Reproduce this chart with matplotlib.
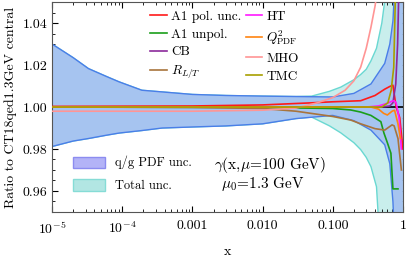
import numpy as np
import matplotlib
matplotlib.use('Agg')
import matplotlib.pyplot as plt
from matplotlib.patches import Patch
from matplotlib.ticker import FixedLocator, FixedFormatter, MultipleLocator, LogLocator

plt.rcParams['font.family'] = 'serif'
plt.rcParams['font.serif'] = ['cmr10']
plt.rcParams['mathtext.fontset'] = 'cm'
plt.rcParams['axes.unicode_minus'] = False
plt.rcParams['axes.formatter.use_mathtext'] = True

# q/g PDF uncertainty band
x_pdf = [1e-5, 2e-5, 3.3e-5, 6e-5, 9e-5, 1.9e-4, 3.7e-4, 1e-3, 3e-3, 1e-2, 3e-2,
         0.1, 0.2, 0.35, 0.55, 0.65, 0.72, 0.8, 0.9, 1.0]
pdf_hi = [1.030, 1.0235, 1.0183, 1.0145, 1.012, 1.008, 1.0072, 1.006, 1.0055, 1.0052, 1.005,
          1.0048, 1.0065, 1.011, 1.0208, 1.030, 1.041, 1.07, 1.2, 1.5]
pdf_lo = [0.9812, 0.9838, 0.985, 0.9866, 0.9876, 0.9888, 0.990, 0.9905, 0.991, 0.992, 0.9945,
          0.996, 0.9935, 0.989, 0.982, 0.973, 0.955, 0.92, 0.85, 0.7]

# total uncertainty band
x_tot = [1e-5, 2e-5, 3.3e-5, 6e-5, 9e-5, 1.9e-4, 3.7e-4, 1e-3, 3e-3, 1e-2, 3e-2,
         0.05, 0.09, 0.13, 0.2, 0.25, 0.3, 0.35, 0.42, 0.5, 0.6, 1.0]
tot_hi = [1.030, 1.0235, 1.0183, 1.0145, 1.012, 1.008, 1.0072, 1.006, 1.0055, 1.0052, 1.005,
          1.0052, 1.0075, 1.0095, 1.013, 1.0155, 1.018, 1.022, 1.028, 1.04, 1.06, 1.5]
tot_lo = [0.9812, 0.9838, 0.985, 0.9866, 0.9876, 0.9888, 0.990, 0.9905, 0.991, 0.992, 0.9945,
          0.9952, 0.991, 0.9877, 0.983, 0.9797, 0.976, 0.9716, 0.962, 0.92, 0.85, 0.5]

# individual uncertainty sources
x_a1pol = [1e-5, 1e-3, 0.01, 0.05, 0.1, 0.25, 0.4, 0.55, 0.65, 0.72, 0.8, 0.9, 1.0]
a1pol = [1.0003, 1.0005, 1.001, 1.002, 1.0025, 1.003, 1.0055, 1.0085, 1.0098, 1.0104, 1.0, 0.995, 0.98]

x_a1unpol = [1e-5, 0.01, 0.1, 0.18, 0.25, 0.35, 0.485, 0.535, 0.6, 0.674, 0.72, 0.85]
a1unpol = [1.0, 0.9998, 0.9993, 0.9986, 0.9976, 0.996, 0.993, 0.9877, 0.983, 0.978, 0.961, 0.961]

x_cb = [1e-5, 0.3, 0.55, 0.65, 0.72, 0.79, 0.84, 0.88]
cb = [1.0, 1.0, 1.0002, 1.0005, 1.002, 1.011, 1.03, 1.06]

x_rlt = [1e-5, 1e-3, 0.01, 0.03, 0.1, 0.18, 0.25, 0.4, 0.55, 0.7, 0.75, 0.85, 0.95]
rlt = [1.0, 0.9998, 0.9993, 0.998, 0.9955, 0.9938, 0.992, 0.9897, 0.989, 0.9915, 0.991, 0.985, 0.97]

x_ht = [1e-5, 0.3, 0.45, 0.6, 0.7, 0.75, 0.8, 0.88, 0.95]
ht = [1.0, 1.0, 1.0005, 1.0018, 1.0028, 1.003, 1.002, 0.995, 0.98]

x_q2 = [1e-5, 0.35, 0.45, 0.53, 0.6, 0.7, 0.76, 0.85, 0.92]
q2 = [1.0, 1.0, 0.999, 0.997, 0.9962, 0.998, 0.9985, 0.992, 0.985]

x_mho = [1e-5, 1e-3, 0.01, 0.03, 0.06, 0.1, 0.15, 0.2, 0.25, 0.3, 0.35, 0.4, 0.45]
mho = [0.998, 0.998, 0.9985, 0.9995, 1.002, 1.0045, 1.008, 1.0125, 1.019, 1.028, 1.038, 1.048, 1.06]

x_tmc = [1e-5, 0.5, 0.61, 0.68, 0.74, 0.79]
tmc = [1.0, 1.0, 1.002, 1.008, 1.019, 1.06]

xticks = [1e-5, 1e-4, 1e-3, 1e-2, 1e-1, 1.0]
xticklabels = [r'$10^{-5}$', r'$10^{-4}$', '0.001', '0.010', '0.100', '1']
yticks = [0.96, 0.98, 1.00, 1.02, 1.04]


def main():
    fig = plt.figure(figsize=(4.07, 2.62), dpi=100)
    ax = fig.add_axes([0.128, 0.191, 0.862, 0.801])

    ax.fill_between(x_tot, tot_lo, tot_hi, facecolor='#c9eeec', edgecolor='none', zorder=1)
    ax.plot(x_tot, tot_hi, color='#6ad8d2', lw=1.0, zorder=1.5)
    ax.plot(x_tot, tot_lo, color='#6ad8d2', lw=1.0, zorder=1.5)
    ax.fill_between(x_pdf, pdf_lo, pdf_hi, facecolor='#a6c4f0', edgecolor='none', zorder=2)
    ax.plot(x_pdf, pdf_hi, color='#4a7ee8', lw=1.0, zorder=2.5)
    ax.plot(x_pdf, pdf_lo, color='#4a7ee8', lw=1.0, zorder=2.5)

    ax.axhline(1.0, color='k', lw=1.2, zorder=3)

    lines = [
        (x_a1pol, a1pol, '#ff1a1a', 'A1 pol. unc.'),
        (x_a1unpol, a1unpol, '#1a9e1a', 'A1 unpol.'),
        (x_cb, cb, '#8b2a9b', 'CB'),
        (x_rlt, rlt, '#a8743c', r'$R_{L/T}$'),
        (x_ht, ht, '#ff19ff', 'HT'),
        (x_q2, q2, '#ff8410', r'$Q^2_{\rm PDF}$'),
        (x_mho, mho, '#ff9595', 'MHO'),
        (x_tmc, tmc, '#a8a000', 'TMC'),
    ]
    handles = []
    for xs, ys, c, lab in lines:
        h, = ax.plot(xs, ys, color=c, lw=1.2, label=lab, zorder=4)
        handles.append(h)

    ax.set_xscale('log')
    ax.set_xlim(1e-5, 1.0)
    ax.set_ylim(0.95, 1.05)
    ax.xaxis.set_major_locator(FixedLocator(xticks))
    ax.xaxis.set_major_formatter(FixedFormatter(xticklabels))
    ax.xaxis.set_minor_locator(LogLocator(base=10, subs=np.arange(2, 10), numticks=20))
    ax.set_yticks(yticks)
    ax.set_yticklabels(['%.2f' % v for v in yticks])
    ax.yaxis.set_minor_locator(MultipleLocator(0.005))
    ax.tick_params(which='both', direction='in', top=True, right=True, labelsize=10)
    ax.tick_params(which='major', length=4, width=0.8)
    ax.tick_params(which='minor', length=2, width=0.6)
    ax.tick_params(axis='x', pad=6)
    for s in ax.spines.values():
        s.set_color('#555555')

    ax.set_xlabel('x', fontsize=10, labelpad=7)
    ax.set_ylabel('Ratio to CT18qed1.3GeV central', fontsize=10)

    leg1 = ax.legend(handles=handles, ncol=2, loc='upper left', bbox_to_anchor=(0.265, 0.985),
                     frameon=False, fontsize=9.5, handlelength=1.25, handletextpad=0.3,
                     columnspacing=0.35, labelspacing=0.42, borderaxespad=0.0)
    ax.add_artist(leg1)

    p1 = Patch(facecolor='#b3b3f7', edgecolor='#8c8cf0', label='q/g PDF unc.')
    p2 = Patch(facecolor='#b2e6e3', edgecolor='#86dcd6', label='Total unc.')
    ax.legend(handles=[p1, p2], loc='lower left', bbox_to_anchor=(0.045, 0.07),
              frameon=False, fontsize=9, handlelength=2.6, handleheight=1.0,
              handletextpad=0.8, labelspacing=0.8, borderaxespad=0.0)

    ax.text(0.62, 0.225, r'$\gamma$(x,$\mu$=100 GeV)', transform=ax.transAxes,
            fontsize=11, ha='center', va='center')
    ax.text(0.60, 0.135, r'$\mu_0$=1.3 GeV', transform=ax.transAxes,
            fontsize=11, ha='center', va='center')

    fig.savefig('out.png', dpi=100)


if __name__ == '__main__':
    main()
